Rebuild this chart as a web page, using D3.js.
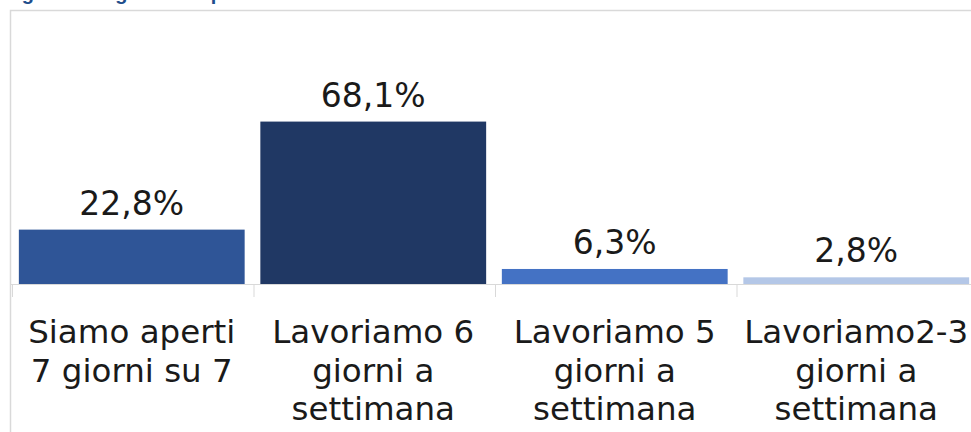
<!DOCTYPE html>
<html><head><meta charset="utf-8">
<script src="https://cdn.jsdelivr.net/npm/d3@7"></script>
<style>
html,body{margin:0;padding:0;background:#fff;overflow:hidden;}
svg{display:block;}
</style></head>
<body>
<svg id="c" width="971" height="432"></svg>
<script>
const titleText = "Figura 12 – giorni di apertura";
const categories = ["Siamo aperti 7 giorni su 7", "Lavoriamo 6 giorni a settimana", "Lavoriamo 5 giorni a settimana", "Lavoriamo2-3 giorni a settimana"];
const categoryLines = [["Siamo aperti", "7 giorni su 7"], ["Lavoriamo 6", "giorni a", "settimana"], ["Lavoriamo 5", "giorni a", "settimana"], ["Lavoriamo2-3", "giorni a", "settimana"]];
const values = [22.8, 68.1, 6.3, 2.8];
const valueLabels = ["22,8%", "68,1%", "6,3%", "2,8%"];
const colors = ["#2F5597", "#203864", "#4472C4", "#B4C7E7"];

const svg = d3.select("#c");
const W = 971, H = 432;
const FONT = "'DejaVu Sans', sans-serif";

// title (mostly cut off above the visible area, as in the reference)
svg.append("text").attr("x", 4).attr("y", 0)
  .attr("font-family", "Liberation Sans, Arial, sans-serif")
  .attr("font-weight", "bold").attr("font-size", 20)
  .attr("fill", "#1F4E8C").text(titleText);

// frame
svg.append("path").attr("d", `M10.5,${H+2} V10.5 H${W+2}`)
  .attr("fill", "none").attr("stroke", "#d9d9d9").attr("stroke-width", 1.5);

const baseY = 284;
const x = d3.scaleBand().domain(categories).range([11, 977]).paddingInner(0.065).paddingOuter(0.0325);
const y = d3.scaleLinear().domain([0, 100]).range([baseY, baseY - 238.5]);

const g = svg.append("g");
g.selectAll("rect.bar").data(values).join("rect").attr("class", "bar")
  .attr("x", (d, i) => x(categories[i]))
  .attr("width", x.bandwidth())
  .attr("y", d => y(d))
  .attr("height", d => y(0) - y(d))
  .attr("fill", (d, i) => colors[i]);

// axis line and category boundary ticks
svg.append("line").attr("x1", 11).attr("x2", W).attr("y1", baseY + 0.5).attr("y2", baseY + 0.5)
  .attr("stroke", "#d9d9d9").attr("stroke-width", 1);
const step = x.step();
const boundaries = d3.range(categories.length + 1).map(i => 11 + i * step);
svg.selectAll("line.tick").data(boundaries).join("line").attr("class", "tick")
  .attr("x1", d => d + 1.5).attr("x2", d => d + 1.5)
  .attr("y1", baseY).attr("y2", baseY + 13)
  .attr("stroke", "#d9d9d9").attr("stroke-width", 1);

// value labels
g.selectAll("text.val").data(values).join("text").attr("class", "val")
  .attr("x", (d, i) => x(categories[i]) + x.bandwidth() / 2)
  .attr("y", d => y(d) - 15)
  .attr("text-anchor", "middle")
  .attr("font-family", FONT)
  .attr("font-size", 33)
  .attr("fill", "#1a1a1a")
  .text((d, i) => valueLabels[i]);

// category labels
categories.forEach((c, i) => {
  const cx = x(c) + x.bandwidth() / 2;
  const t = svg.append("text")
    .attr("x", cx)
    .attr("y", 343)
    .attr("text-anchor", "middle")
    .attr("font-family", FONT)
    .attr("font-size", 32.5)
    .attr("fill", "#1a1a1a");
  categoryLines[i].forEach((ln, j) => {
    t.append("tspan").attr("x", cx).attr("dy", j === 0 ? 0 : 38.5).text(ln);
  });
});
</script>
</body></html>
